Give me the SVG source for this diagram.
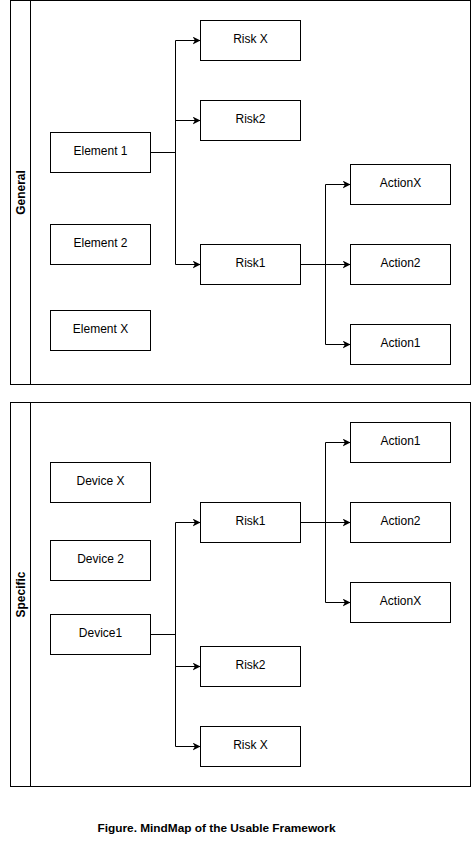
<svg xmlns="http://www.w3.org/2000/svg" width="471" height="841" viewBox="0 0 471 841">
<style>
.pool{fill:#fff;stroke:#000;stroke-width:1}
.box{fill:#fff;stroke:#000;stroke-width:1}
.lbl{font-family:"Liberation Sans",Arial,sans-serif;font-size:12px;fill:#000;text-anchor:middle;dominant-baseline:central}
.plbl{font-family:"Liberation Sans",Arial,sans-serif;font-size:12px;font-weight:bold;fill:#000;text-anchor:middle;dominant-baseline:central}
.edge{fill:none;stroke:#000;stroke-width:1}
</style>
<defs>
<marker id="arr" viewBox="0 0 10 10" refX="10" refY="5" markerWidth="8" markerHeight="8" markerUnits="userSpaceOnUse" orient="auto">
<path d="M0,0 L10,5 L0,10 L3,5 Z" fill="#000"/>
</marker>
</defs>
<rect width="471" height="841" fill="#fff"/>
<g id="pool-general">
<rect class="pool" x="10.5" y="0.5" width="460" height="384"/>
<line x1="30.5" y1="0.5" x2="30.5" y2="384.5" stroke="#000"/>
<text class="plbl" transform="translate(20.5,192.5) rotate(-90)">General</text>
</g>
<g id="pool-specific">
<rect class="pool" x="10.5" y="402.5" width="460" height="384"/>
<line x1="30.5" y1="402.5" x2="30.5" y2="786.5" stroke="#000"/>
<text class="plbl" transform="translate(20.5,594.5) rotate(-90)">Specific</text>
</g>
<g id="connectors">
<path class="edge" d="M150.5,152.5 H175.5 V40.5 H200.5" marker-end="url(#arr)"/>
<path class="edge" d="M150.5,152.5 H175.5 V120.5 H200.5" marker-end="url(#arr)"/>
<path class="edge" d="M150.5,152.5 H175.5 V264.5 H200.5" marker-end="url(#arr)"/>
<path class="edge" d="M300.5,264.5 H325.5 V184.5 H350.5" marker-end="url(#arr)"/>
<path class="edge" d="M300.5,264.5 H350.5" marker-end="url(#arr)"/>
<path class="edge" d="M300.5,264.5 H325.5 V344.5 H350.5" marker-end="url(#arr)"/>
<path class="edge" d="M150.5,634.5 H175.5 V522.5 H200.5" marker-end="url(#arr)"/>
<path class="edge" d="M150.5,634.5 H175.5 V666.5 H200.5" marker-end="url(#arr)"/>
<path class="edge" d="M150.5,634.5 H175.5 V746.5 H200.5" marker-end="url(#arr)"/>
<path class="edge" d="M300.5,522.5 H325.5 V442.5 H350.5" marker-end="url(#arr)"/>
<path class="edge" d="M300.5,522.5 H350.5" marker-end="url(#arr)"/>
<path class="edge" d="M300.5,522.5 H325.5 V602.5 H350.5" marker-end="url(#arr)"/>
</g>
<g id="g-element1"><rect class="box" x="50.5" y="132.5" width="100" height="40"/><text class="lbl" x="100.5" y="150.5">Element 1</text></g>
<g id="g-element2"><rect class="box" x="50.5" y="224.5" width="100" height="40"/><text class="lbl" x="100.5" y="242.5">Element 2</text></g>
<g id="g-elementx"><rect class="box" x="50.5" y="310.5" width="100" height="40"/><text class="lbl" x="100.5" y="328.5">Element X</text></g>
<g id="g-riskx"><rect class="box" x="200.5" y="20.5" width="100" height="40"/><text class="lbl" x="250.5" y="38.5">Risk X</text></g>
<g id="g-risk2"><rect class="box" x="200.5" y="100.5" width="100" height="40"/><text class="lbl" x="250.5" y="118.5">Risk2</text></g>
<g id="g-risk1"><rect class="box" x="200.5" y="244.5" width="100" height="40"/><text class="lbl" x="250.5" y="262.5">Risk1</text></g>
<g id="g-actionx"><rect class="box" x="350.5" y="164.5" width="100" height="40"/><text class="lbl" x="400.5" y="182.5">ActionX</text></g>
<g id="g-action2"><rect class="box" x="350.5" y="244.5" width="100" height="40"/><text class="lbl" x="400.5" y="262.5">Action2</text></g>
<g id="g-action1"><rect class="box" x="350.5" y="324.5" width="100" height="40"/><text class="lbl" x="400.5" y="342.5">Action1</text></g>
<g id="s-devicex"><rect class="box" x="50.5" y="462.5" width="100" height="40"/><text class="lbl" x="100.5" y="480.5">Device X</text></g>
<g id="s-device2"><rect class="box" x="50.5" y="540.5" width="100" height="40"/><text class="lbl" x="100.5" y="558.5">Device 2</text></g>
<g id="s-device1"><rect class="box" x="50.5" y="614.5" width="100" height="40"/><text class="lbl" x="100.5" y="632.5">Device1</text></g>
<g id="s-risk1"><rect class="box" x="200.5" y="502.5" width="100" height="40"/><text class="lbl" x="250.5" y="520.5">Risk1</text></g>
<g id="s-risk2"><rect class="box" x="200.5" y="646.5" width="100" height="40"/><text class="lbl" x="250.5" y="664.5">Risk2</text></g>
<g id="s-riskx"><rect class="box" x="200.5" y="726.5" width="100" height="40"/><text class="lbl" x="250.5" y="744.5">Risk X</text></g>
<g id="s-action1"><rect class="box" x="350.5" y="422.5" width="100" height="40"/><text class="lbl" x="400.5" y="440.5">Action1</text></g>
<g id="s-action2"><rect class="box" x="350.5" y="502.5" width="100" height="40"/><text class="lbl" x="400.5" y="520.5">Action2</text></g>
<g id="s-actionx"><rect class="box" x="350.5" y="582.5" width="100" height="40"/><text class="lbl" x="400.5" y="600.5">ActionX</text></g>
<text x="216.5" y="832" font-family="'Liberation Sans',Arial,sans-serif" font-size="11.5" font-weight="bold" text-anchor="middle" textLength="238" lengthAdjust="spacingAndGlyphs">Figure. MindMap of the Usable Framework</text>
</svg>
